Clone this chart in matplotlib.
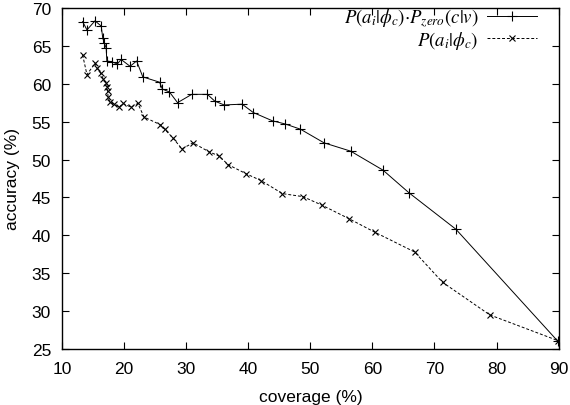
import matplotlib
matplotlib.use("Agg")
import matplotlib.pyplot as plt

plt.rcParams['font.family'] = ['Liberation Sans', 'DejaVu Sans']
plt.rcParams['mathtext.fontset'] = 'stix'

# combined model: P(a|phi) * P_zero(c|v)
cov_comb = [13.3, 14.0, 15.3, 16.3, 16.55, 16.8, 17.1, 17.2, 18.0, 18.9, 19.5, 20.95,
            22.0, 23.0, 25.7, 26.15, 27.3, 28.6, 30.9, 33.4, 34.6, 36.1, 39.0, 40.8,
            43.9, 45.9, 48.4, 52.2, 56.5, 61.7, 65.9, 73.45, 89.9]
acc_comb = [68.2, 67.1, 68.3, 67.6, 66.0, 65.4, 64.7, 63.0, 62.9, 62.6, 63.2, 62.3,
            63.0, 60.9, 60.2, 59.3, 58.9, 57.5, 58.6, 58.6, 57.7, 57.2, 57.3, 56.2,
            55.1, 54.7, 54.0, 52.2, 51.1, 48.6, 45.6, 40.8, 26.0]

# P(a|phi) only
cov_base = [13.3, 14.0, 15.3, 15.6, 16.2, 16.65, 17.1, 17.3, 17.35, 17.4, 17.7, 18.3,
            19.2, 19.8, 21.1, 22.2, 23.2, 25.8, 26.5, 27.8, 29.3, 31.1, 33.7, 35.2,
            36.8, 39.7, 42.1, 45.5, 48.8, 51.8, 56.2, 60.4, 66.8, 71.3, 78.9, 89.9]
acc_base = [63.8, 61.2, 62.7, 62.1, 61.4, 60.6, 60.1, 59.6, 59.0, 58.2, 57.6, 57.3,
            56.9, 57.4, 56.9, 57.4, 55.6, 54.6, 54.0, 52.9, 51.4, 52.2, 51.0, 50.5,
            49.3, 48.1, 47.2, 45.5, 45.1, 44.0, 42.2, 40.4, 37.8, 33.8, 29.5, 26.1]

fig = plt.figure(figsize=(5.7, 4.06), dpi=100)
ax = fig.add_axes([0.109, 0.138, 0.871, 0.840])

ax.plot(cov_comb, acc_comb, color='black', lw=0.7, marker='+', ms=6.5, mew=0.8,
        label=r'$P(a_i|\phi_c){\cdot}P_{zero}(c|v)$')
ax.plot(cov_base, acc_base, color='black', lw=0.7, ls=(0, (3, 2)), marker='x', ms=5, mew=0.8,
        label=r'$P(a_i|\phi_c)$')

ax.set_xlim(10, 90)
ax.set_ylim(25, 70)
ax.set_xticks(range(10, 91, 10))
ax.set_yticks(range(25, 71, 5))
ax.tick_params(direction='in', top=True, right=True, length=5, width=0.8, labelsize=12.5)
ax.tick_params(axis='x', pad=9)
ax.tick_params(axis='y', pad=8)
for s in ax.spines.values():
    s.set_linewidth(1.0)

ax.set_xlabel('coverage (%)', fontsize=12.5, labelpad=9)
ax.set_ylabel('accuracy (%)', fontsize=12.5, labelpad=8)

ax.legend(loc='upper right', bbox_to_anchor=(0.957, 1.005), frameon=False,
          markerfirst=False, fontsize=13.5, handlelength=2.7, handletextpad=0.45,
          labelspacing=0.0, borderaxespad=0.0, borderpad=0.0)

fig.savefig('out.png', dpi=100)
